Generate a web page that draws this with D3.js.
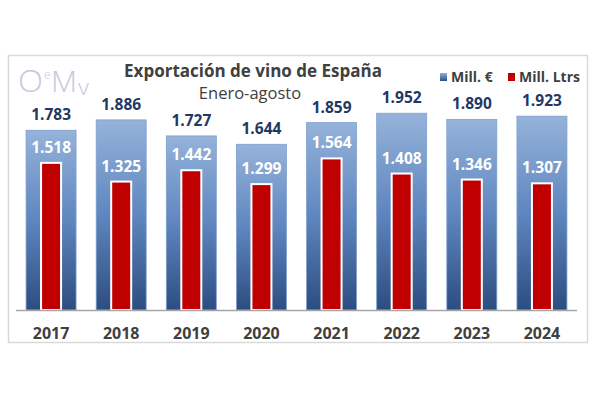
<!DOCTYPE html>
<html><head><meta charset="utf-8">
<script src="https://cdn.jsdelivr.net/npm/d3@7"></script>
<style>body{margin:0;background:#fff}svg{display:block}</style>
</head><body>
<svg id="c" width="600" height="400"></svg>
<script>
const years = ["2017","2018","2019","2020","2021","2022","2023","2024"];
const millEuro = [1783,1886,1727,1644,1859,1952,1890,1923];
const millLtrs = [1518,1325,1442,1299,1564,1408,1346,1307];
const legendLabels = ["Mill. €","Mill. Ltrs"];
const titleText = "Exportación de vino de España";
const subtitleText = "Enero-agosto";
const logoParts = ["O","e","M","v"];

const svg = d3.select("#c");
const F = "'Open Sans', 'DejaVu Sans', sans-serif";

const defs = svg.append("defs");
const g1 = defs.append("linearGradient").attr("id","gb").attr("x1",0).attr("y1",0).attr("x2",0).attr("y2",1);
g1.append("stop").attr("offset","0%").attr("stop-color","#95b3da");
g1.append("stop").attr("offset","50%").attr("stop-color","#5f86bf");
g1.append("stop").attr("offset","100%").attr("stop-color","#2c4d80");
const g2 = defs.append("linearGradient").attr("id","gl").attr("x1",0).attr("y1",0).attr("x2",0).attr("y2",1);
g2.append("stop").attr("offset","0%").attr("stop-color","#8eb0dc");
g2.append("stop").attr("offset","100%").attr("stop-color","#2c4d80");

// frame
svg.append("rect").attr("x",8.5).attr("y",55.5).attr("width",579).attr("height",287)
  .attr("fill","#fff").attr("stroke","#d9d9d9").attr("stroke-width",1.5);

const x = d3.scaleBand().domain(years).range([16,577]).paddingInner(0.287).paddingOuter(0.1435);
const yE = d3.scaleLinear().domain([0,2500]).range([310,58]);
const yL = d3.scaleLinear().domain([0,2600]).range([310,58]);

// blue bars
svg.append("g").selectAll("rect").data(years).join("rect")
  .attr("x",d=>x(d)).attr("width",x.bandwidth())
  .attr("y",(d,i)=>yE(millEuro[i])).attr("height",(d,i)=>yE(0)-yE(millEuro[i]))
  .attr("fill","url(#gb)").attr("stroke","#7d9fcf").attr("stroke-width",0.8);

// red bars
const rw = 20;
svg.append("g").selectAll("rect").data(years).join("rect")
  .attr("x",d=>x(d)+x.bandwidth()/2-rw/2).attr("width",rw)
  .attr("y",(d,i)=>yL(millLtrs[i])).attr("height",(d,i)=>yL(0)-yL(millLtrs[i]))
  .attr("fill","#c00000").attr("stroke","#fff").attr("stroke-width",2);

// axis line
svg.append("line").attr("x1",16).attr("x2",577).attr("y1",310.5).attr("y2",310.5)
  .attr("stroke","#a6a6a6").attr("stroke-width",1.5);

const fmt = v => d3.format(",")(v).replace(",",".");
// value labels
svg.append("g").selectAll("text").data(years).join("text")
  .attr("x",d=>x(d)+x.bandwidth()/2).attr("y",(d,i)=>yE(millEuro[i])-10)
  .attr("text-anchor","middle").attr("font-family",F).attr("font-weight","bold").attr("font-size",15.5)
  .attr("fill","#1f3864").text((d,i)=>fmt(millEuro[i]));

svg.append("g").selectAll("text").data(years).join("text")
  .attr("x",d=>x(d)+x.bandwidth()/2).attr("y",(d,i)=>yL(millLtrs[i])-10)
  .attr("text-anchor","middle").attr("font-family",F).attr("font-weight","bold").attr("font-size",15.5)
  .attr("fill","#ffffff").text((d,i)=>fmt(millLtrs[i]));

// year labels
svg.append("g").selectAll("text").data(years).join("text")
  .attr("x",d=>x(d)+x.bandwidth()/2).attr("y",339)
  .attr("text-anchor","middle").attr("font-family",F).attr("font-weight","bold").attr("font-size",16)
  .attr("fill","#404040").text(d=>d);

// title
svg.append("text").attr("x",253).attr("y",77).attr("text-anchor","middle")
  .attr("font-family",F).attr("font-weight","bold").attr("font-size",17).attr("fill","#404040").text(titleText);
svg.append("text").attr("x",250).attr("y",99).attr("text-anchor","middle")
  .attr("font-family",F).attr("font-size",16.5).attr("fill","#404040").text(subtitleText);

// logo
const logo = svg.append("g").attr("fill","#c3c9dc").attr("font-family",F).attr("font-weight","300");
logo.append("text").attr("x",18).attr("y",92).attr("font-size",31)
  .attr("textLength",25).attr("lengthAdjust","spacingAndGlyphs").text(logoParts[0]);
logo.append("text").attr("x",44).attr("y",79).attr("font-size",12).text(logoParts[1]);
logo.append("text").attr("x",51).attr("y",92).attr("font-size",30).attr("font-weight","200")
  .attr("textLength",26).attr("lengthAdjust","spacingAndGlyphs").text(logoParts[2]);
logo.append("text").attr("x",78).attr("y",95).attr("font-size",22).attr("font-weight","200")
  .attr("textLength",11).attr("lengthAdjust","spacingAndGlyphs").text(logoParts[3]);

// legend
const lg = svg.append("g").attr("font-family",F).attr("font-weight","bold").attr("font-size",14).attr("fill","#404040");
lg.append("rect").attr("x",440).attr("y",73).attr("width",7).attr("height",8).attr("fill","url(#gl)");
lg.append("text").attr("x",451).attr("y",82).text(legendLabels[0]);
lg.append("rect").attr("x",508).attr("y",73).attr("width",7).attr("height",8).attr("fill","#c00000");
lg.append("text").attr("x",519).attr("y",82).text(legendLabels[1]);
</script>
</body></html>
